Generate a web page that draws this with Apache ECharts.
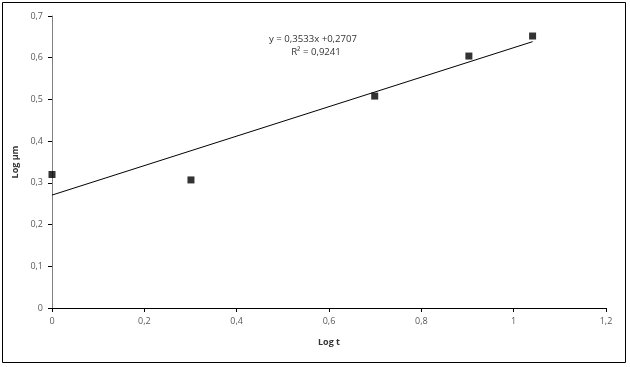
<!DOCTYPE html>
<html><head><meta charset="utf-8">
<script src="https://cdn.jsdelivr.net/npm/echarts@6/dist/echarts.min.js"></script>
<style>html,body{margin:0;padding:0;background:#fff}#c{width:630px;height:367px}</style>
</head><body><div id="c"></div>
<script>
const logT = [0, 0.301, 0.699, 0.903, 1.041];
const logUm = [0.32, 0.307, 0.508, 0.604, 0.652];
const trendX = [0, 1.041];
const trendY = [0.2707, 0.6385];
const xTicks = [0, 0.2, 0.4, 0.6, 0.8, 1, 1.2];
const yTicks = [0, 0.1, 0.2, 0.3, 0.4, 0.5, 0.6, 0.7];
const eqLines = ['y = 0,3533x +0,2707', 'R² = 0,9241'];

const fmt = v => String(Math.round(v * 10) / 10).replace('.', ',');
const font = '"Open Sans", "Liberation Sans", sans-serif';
const chart = echarts.init(document.getElementById('c'));
chart.setOption({
  animation: false,
  grid: { left: 52, right: 24, top: 16, bottom: 59 },
  xAxis: {
    type: 'value', min: 0, max: 1.2, interval: 0.2,
    name: 'Log t', nameLocation: 'middle', nameGap: 30,
    nameTextStyle: { fontFamily: font, fontSize: 9, fontWeight: 'bold', color: '#333' },
    axisLine: { lineStyle: { color: '#000', width: 1 } },
    axisTick: { show: true, length: 4, inside: false, lineStyle: { color: '#000' } },
    splitLine: { show: false },
    axisLabel: { formatter: fmt, fontFamily: font, fontSize: 9, color: '#595959', margin: 9 }
  },
  yAxis: {
    type: 'value', min: 0, max: 0.7, interval: 0.1,
    name: 'Log µm', nameLocation: 'middle', nameGap: 29, nameRotate: 90,
    nameTextStyle: { fontFamily: font, fontSize: 9, fontWeight: 'bold', color: '#333' },
    axisLine: { show: true, lineStyle: { color: '#808080', width: 1 } },
    axisTick: { show: true, length: 4, lineStyle: { color: '#000' } },
    splitLine: { show: false },
    axisLabel: { formatter: fmt, fontFamily: font, fontSize: 9, color: '#595959', margin: 9 }
  },
  series: [
    {
      type: 'line', data: trendX.map((x, i) => [x, trendY[i]]),
      showSymbol: false, symbol: 'none',
      lineStyle: { color: '#000', width: 1 }, z: 2
    },
    {
      type: 'scatter', data: logT.map((x, i) => [x, logUm[i]]),
      symbol: 'rect', symbolSize: 7,
      itemStyle: { color: '#000' }, z: 3
    }
  ],
  graphic: [
    { type: 'rect', shape: { x: 2.5, y: 2.5, width: 623, height: 360 },
      style: { fill: 'none', stroke: '#000', lineWidth: 1 }, silent: true },
    { type: 'text', x: 313, y: 39, style: { text: eqLines[0], font: '9.6px ' + font, fill: '#333', textAlign: 'center', textVerticalAlign: 'middle' } },
    { type: 'text', x: 316, y: 52, style: { text: eqLines[1], font: '9.6px ' + font, fill: '#333', textAlign: 'center', textVerticalAlign: 'middle' } }
  ]
});
</script></body></html>
